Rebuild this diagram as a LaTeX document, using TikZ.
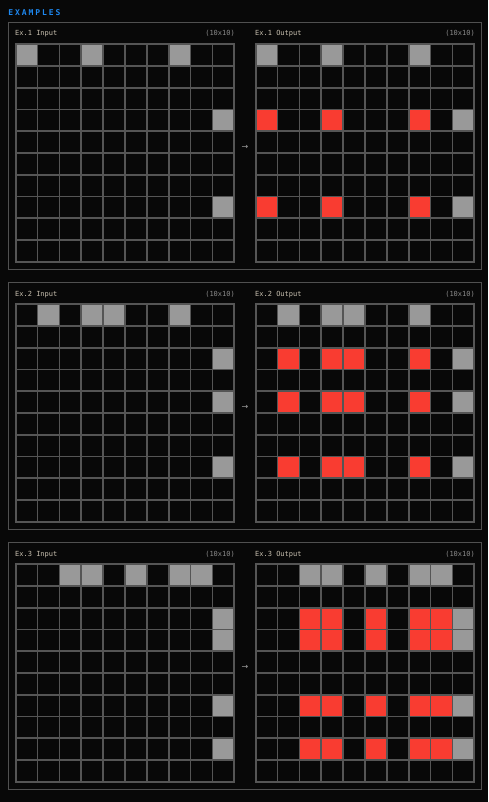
\documentclass[tikz,border=0pt]{standalone}
\usepackage{fontspec}
\setmonofont{DejaVu Sans Mono}
\newfontfamily\titlefont[LetterSpace=24]{DejaVu Sans Mono}
\newfontfamily\arrowfont{DejaVu Sans}
\usepackage{tikz}
\definecolor{bgC}{HTML}{080808}
\definecolor{panelC}{HTML}{505050}
\definecolor{lineC}{HTML}{555555}
\definecolor{grayC}{HTML}{999999}
\definecolor{redC}{HTML}{F93C31}
\definecolor{titleC}{HTML}{1E88F0}
\definecolor{labelC}{HTML}{C8C0B0}
\definecolor{dimC}{HTML}{8A8A8A}
\definecolor{arrowC}{HTML}{A0A0A0}
\tikzset{
  panelline/.style={draw=panelC,line width=1pt},
  gridline/.style={draw=lineC,line width=1.7pt,line cap=rect},
  lbl/.style={font=\ttfamily\fontsize{7}{8}\selectfont,text=labelC,inner sep=0pt},
  dimlbl/.style={lbl,text=dimC},
}
% one example row: #1 y offset, #2 number, #3 marked columns, #4 marked rows
\newcommand{\examplepanel}[4]{%
  \pgfmathsetmacro{\oy}{#1}
  % Panel outline
  \draw[panelline] (8.5,\oy+22.5) rectangle (481.2,\oy+269);
  \node[lbl,anchor=base west] (in#2) at (15,\oy+36) {Ex.#2 Input};
  \node[dimlbl,anchor=base east] (insize#2) at (235,\oy+36) {(10x10)};
  \node[lbl,anchor=base west] (out#2) at (255,\oy+36) {Ex.#2 Output};
  \node[dimlbl,anchor=base east] (outsize#2) at (475,\oy+36) {(10x10)};
  % Gray markers, same in input and output
  \foreach \gx in {15.8,255.8}{
    \foreach \c in {#3}
      \fill[grayC] (\gx+\c*21.84,\oy+44.2) rectangle ++(21.84,21.76);
    \foreach \r in {#4}
      \fill[grayC] (\gx+9*21.84,\oy+44.2+\r*21.76) rectangle ++(21.84,21.76);
  }
  % Red crossings, output only
  \foreach \r in {#4}{
    \foreach \c in {#3}
      \fill[redC] (255.8+\c*21.84,\oy+44.2+\r*21.76) rectangle ++(21.84,21.76);
  }
  % Grid lines
  \foreach \gx in {15.8,255.8}{
    \foreach \i in {0,...,10}{
      \draw[gridline] (\gx+\i*21.84,\oy+44.2) -- (\gx+\i*21.84,\oy+261.8);
      \draw[gridline] (\gx,\oy+44.2+\i*21.76) -- (\gx+218.4,\oy+44.2+\i*21.76);
    }
  }
  % Arrow between grids
  \node[font=\arrowfont\fontsize{8}{8}\selectfont,text=arrowC,inner sep=0pt]
    (arrow#2) at (245,\oy+147) {→};
}

\begin{document}
\begin{tikzpicture}[x=1pt,y=-1pt]
  % Background
  \fill[bgC] (0,0) rectangle (488,802);
  \useasboundingbox (0,0) rectangle (488,802);

  % Heading
  \node[font=\titlefont\bfseries\fontsize{8}{9}\selectfont,text=titleC,
        anchor=base west,inner sep=0pt] (examples) at (8.3,15.5) {EXAMPLES};

  % Three examples
  \examplepanel{0}{1}{0,3,7}{3,7}
  \examplepanel{260}{2}{1,3,4,7}{2,4,7}
  \examplepanel{520}{3}{2,3,5,7,8}{2,3,6,8}
\end{tikzpicture}
\end{document}
